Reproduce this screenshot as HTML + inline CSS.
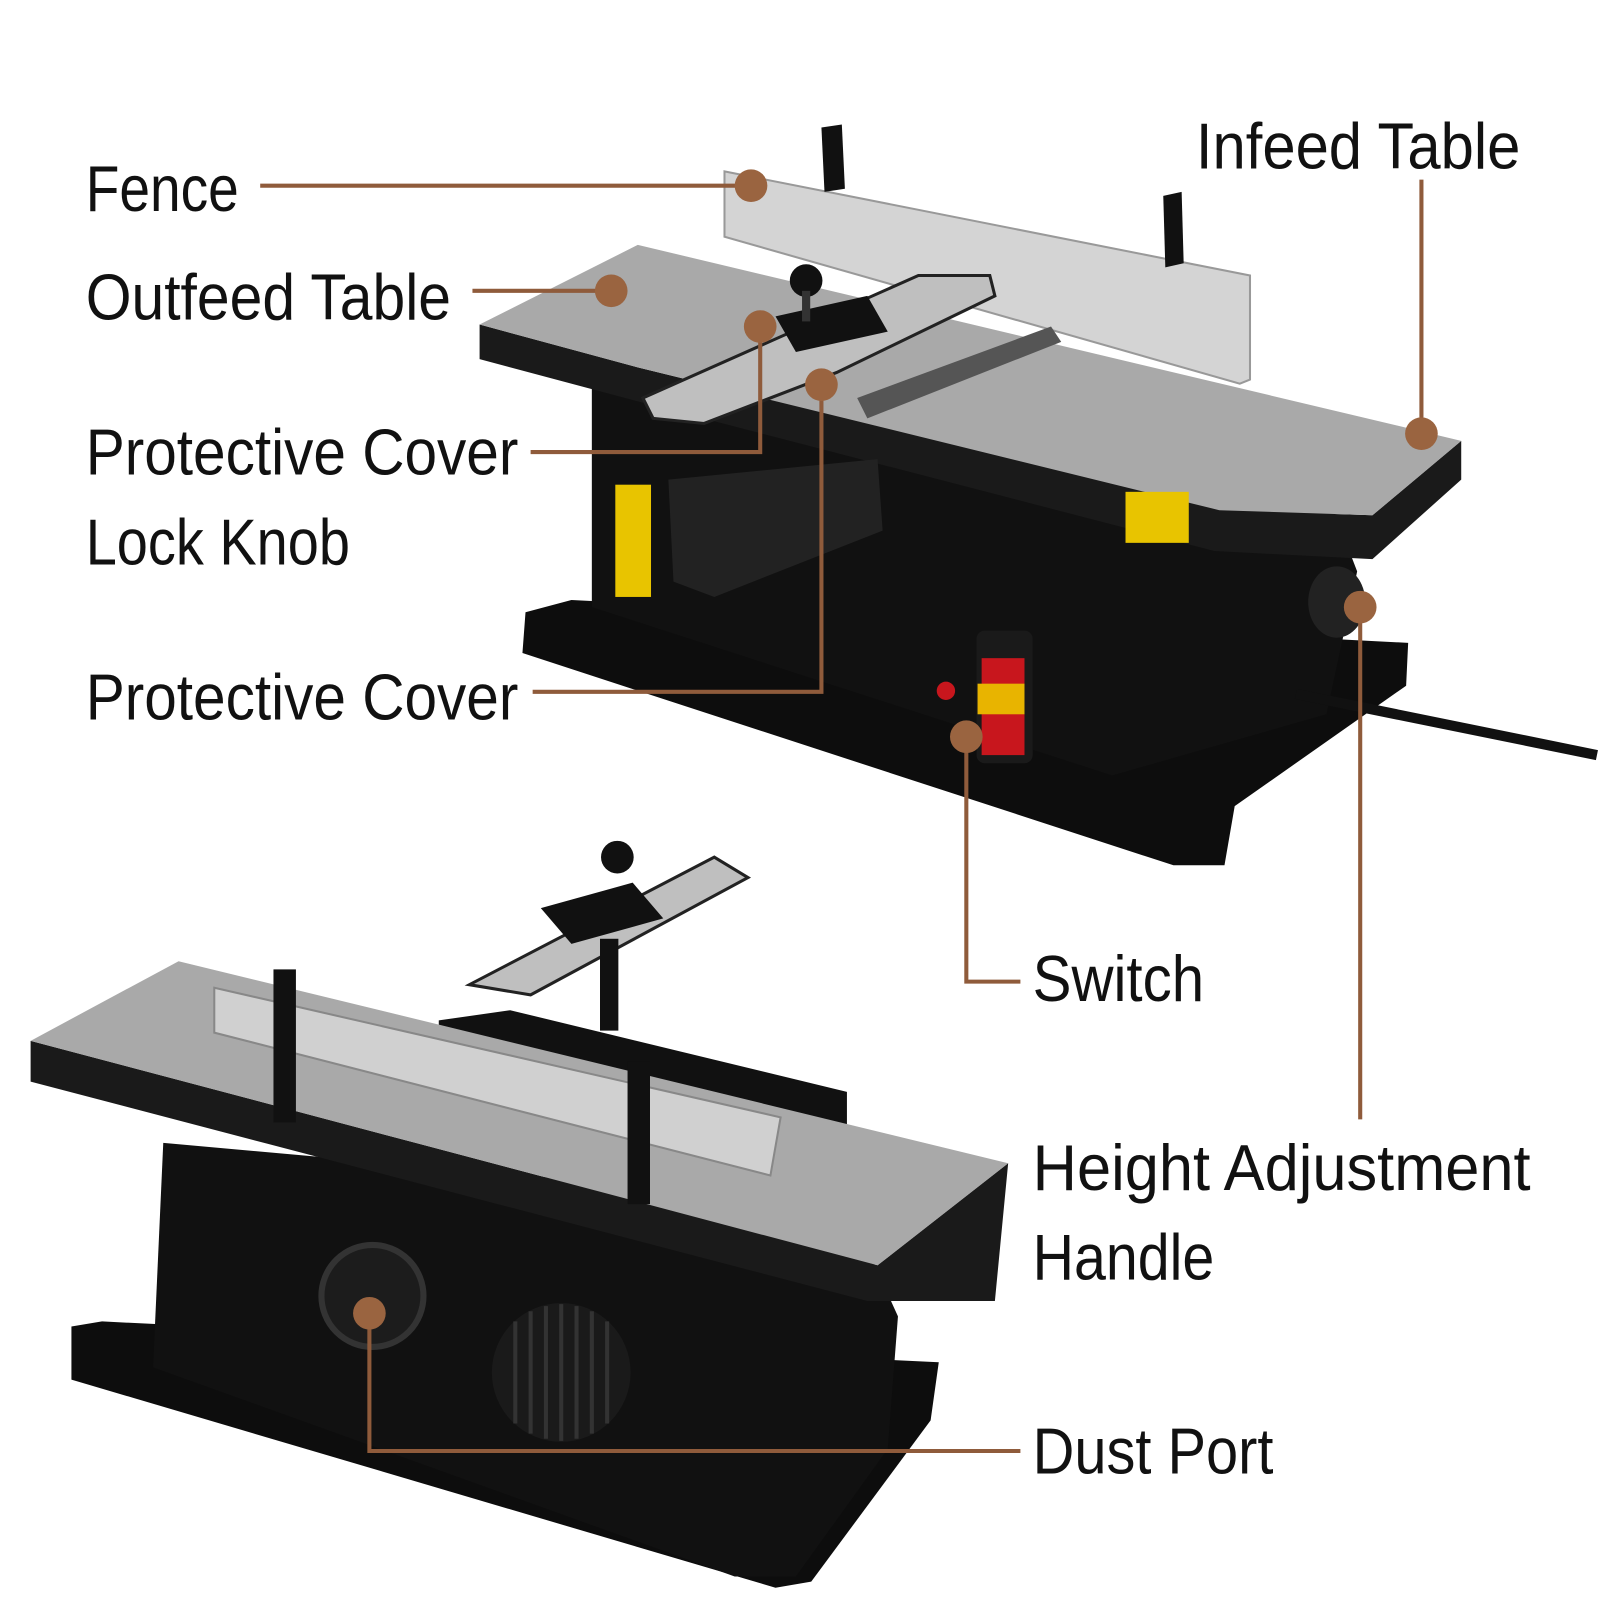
<!DOCTYPE html>
<html><head><meta charset="utf-8"><style>
html,body{margin:0;padding:0;background:#fff;}
svg{display:block;}
text{font-family:"Liberation Sans",sans-serif;font-size:64px;fill:#111;}
</style></head><body>
<svg width="1600" height="1600" viewBox="0 0 1568 1568" xmlns="http://www.w3.org/2000/svg">
<rect width="1568" height="1568" fill="#fff"/>
<!-- TOP MACHINE -->
<polygon points="515,600 560,588 1380,630 1378,672 1210,790 1200,848 1150,848 512,640" fill="#0d0d0d"/>
<polygon points="580,372 1280,430 1330,560 1300,700 1090,760 580,595" fill="#111"/>
<polygon points="470,318 470,352 620,392 1190,540 1345,548 1432,470 1432,432 1345,505 1195,500 625,360" fill="#1a1a1a"/>
<polygon points="470,318 625,240 1432,432 1345,505 1195,500 625,360" fill="#a9a9a9"/>
<polygon points="710,168 1225,270 1225,372 1215,376 710,232" fill="#d4d4d4" stroke="#999" stroke-width="2"/>
<polygon points="805,125 825,122 828,185 808,188" fill="#111"/>
<polygon points="1140,192 1158,188 1160,258 1142,262" fill="#111"/>
<polygon points="840,390 1030,320 1040,335 850,410" fill="#555"/>
<polygon points="630,390 900,270 970,270 975,290 820,365 690,415 640,410" fill="#bfbfbf" stroke="#222" stroke-width="3"/>
<polygon points="760,310 850,290 870,325 780,345" fill="#111"/>
<circle cx="790" cy="275" r="16" fill="#111"/>
<rect x="786" y="285" width="8" height="30" fill="#333"/>
<rect x="603" y="475" width="35" height="110" fill="#e8c400"/>
<polygon points="655,470 860,450 865,520 700,585 660,570" fill="#222"/>
<rect x="1103" y="482" width="62" height="50" fill="#e8c400"/>
<rect x="957" y="618" width="55" height="130" rx="8" fill="#1a1a1a"/>
<rect x="962" y="645" width="42" height="95" fill="#c8161d"/>
<rect x="958" y="670" width="46" height="30" fill="#e8b400"/>
<circle cx="927" cy="677" r="9" fill="#c8161d"/>
<line x1="1270" y1="680" x2="1565" y2="740" stroke="#111" stroke-width="10"/>
<ellipse cx="1310" cy="590" rx="28" ry="35" fill="#222"/>
<!-- BOTTOM MACHINE -->
<polygon points="70,1300 100,1295 920,1335 912,1392 795,1550 760,1556 70,1352" fill="#0d0d0d"/>
<polygon points="160,1120 830,1180 880,1290 870,1420 780,1545 720,1545 150,1340" fill="#111"/>
<polygon points="430,1000 500,990 830,1070 830,1190 430,1100" fill="#111"/>
<polygon points="30,1020 30,1060 850,1275 975,1275 988,1140 860,1240" fill="#1a1a1a"/>
<polygon points="30,1020 175,942 988,1140 860,1240" fill="#a9a9a9"/>
<polygon points="210,968 765,1095 755,1152 210,1012" fill="#d0d0d0" stroke="#888" stroke-width="2"/>
<rect x="268" y="950" width="22" height="150" fill="#111"/>
<rect x="615" y="1040" width="22" height="140" fill="#111"/>
<polygon points="460,965 700,840 733,860 520,975" fill="#bfbfbf" stroke="#222" stroke-width="3"/>
<polygon points="530,890 620,865 650,900 560,925" fill="#111"/>
<circle cx="605" cy="840" r="16" fill="#111"/>
<rect x="588" y="920" width="18" height="90" fill="#111"/>
<circle cx="365" cy="1270" r="50" fill="#1c1c1c" stroke="#333" stroke-width="6"/>
<circle cx="550" cy="1345" r="68" fill="#1a1a1a"/>
<g stroke="#333" stroke-width="4">
<line x1="505" y1="1295" x2="505" y2="1395"/><line x1="520" y1="1285" x2="520" y2="1405"/><line x1="535" y1="1280" x2="535" y2="1410"/><line x1="550" y1="1278" x2="550" y2="1412"/><line x1="565" y1="1280" x2="565" y2="1410"/><line x1="580" y1="1285" x2="580" y2="1405"/><line x1="595" y1="1295" x2="595" y2="1395"/>
</g>
<!-- CALLOUTS -->
<g stroke="#8f5b3b" stroke-width="4" fill="none">
<line x1="255" y1="182" x2="736" y2="182"/>
<line x1="463" y1="285" x2="599" y2="285"/>
<polyline points="520,443 745,443 745,320"/>
<polyline points="522,678 805,678 805,377"/>
<line x1="1393" y1="176" x2="1393" y2="425"/>
<polyline points="947,722 947,962 1000,962"/>
<line x1="1333" y1="595" x2="1333" y2="1097"/>
<polyline points="362,1287 362,1422 1000,1422"/>
</g>
<g fill="#9a6440">
<circle cx="736" cy="182" r="16"/><circle cx="599" cy="285" r="16"/>
<circle cx="745" cy="320" r="16"/><circle cx="805" cy="377" r="16"/>
<circle cx="1393" cy="425" r="16"/><circle cx="947" cy="722" r="16"/>
<circle cx="1333" cy="595" r="16"/><circle cx="362" cy="1287" r="16"/>
</g>
<text x="84" y="207" textLength="150" lengthAdjust="spacingAndGlyphs">Fence</text>
<text x="84" y="313" textLength="358" lengthAdjust="spacingAndGlyphs">Outfeed Table</text>
<text x="84" y="465" textLength="424" lengthAdjust="spacingAndGlyphs">Protective Cover</text>
<text x="84" y="553" textLength="259" lengthAdjust="spacingAndGlyphs">Lock Knob</text>
<text x="84" y="705" textLength="424" lengthAdjust="spacingAndGlyphs">Protective Cover</text>
<text x="1172" y="165" textLength="318" lengthAdjust="spacingAndGlyphs">Infeed Table</text>
<text x="1012" y="981" textLength="168" lengthAdjust="spacingAndGlyphs">Switch</text>
<text x="1012" y="1166" textLength="488" lengthAdjust="spacingAndGlyphs">Height Adjustment</text>
<text x="1012" y="1254" textLength="178" lengthAdjust="spacingAndGlyphs">Handle</text>
<text x="1012" y="1444" textLength="236" lengthAdjust="spacingAndGlyphs">Dust Port</text>
</svg>
</body></html>
